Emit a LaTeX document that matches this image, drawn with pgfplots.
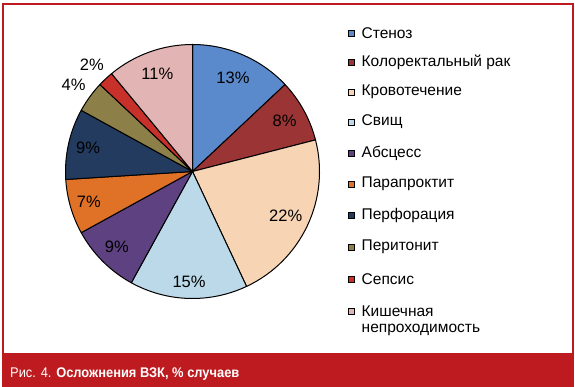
\documentclass[border=0pt]{standalone}
\usepackage{pgfplots}
\pgfplotsset{compat=1.18}
\usepackage{pgfplotstable}
\usepackage{fontspec}
\setmainfont{Liberation Sans}
\newfontfamily\capfont[FakeStretch=0.92]{Liberation Sans}

\definecolor{c0}{HTML}{5A8ACB}
\definecolor{c1}{HTML}{9B3434}
\definecolor{c2}{HTML}{F6D4B4}
\definecolor{c3}{HTML}{BBD9E8}
\definecolor{c4}{HTML}{5E4180}
\definecolor{c5}{HTML}{E07228}
\definecolor{c6}{HTML}{233B5E}
\definecolor{c7}{HTML}{8C8048}
\definecolor{c8}{HTML}{C8302A}
\definecolor{c9}{HTML}{E3B4B4}
\definecolor{bandred}{HTML}{BE1B20}

\pgfplotstableread{
idx val lr ly name
0 13 102 33 Стеноз
1 8 105 62 {Колоректальный рак}
2 22 103 92 Кровотечение
3 15 110 122 Свищ
4 9 107 153 Абсцесс
5 7 108 184 Парапроктит
6 9 107 215 Перфорация
7 4 147 247 Перитонит
8 2 147 279 Сепсис
9 11 104 311 Кишечная
}\piedata

\begin{document}
\begin{tikzpicture}
\def\cum{0}
\foreach \i in {0,...,9}{%
  \pgfplotstablegetelem{\i}{val}\of\piedata
  \let\v\pgfplotsretval
  \pgfplotstablegetelem{\i}{lr}\of\piedata
  \let\r\pgfplotsretval
  \pgfplotstablegetelem{\i}{ly}\of\piedata
  \let\yy\pgfplotsretval
  \pgfplotstablegetelem{\i}{name}\of\piedata
  \let\nm\pgfplotsretval
  \pgfmathsetmacro\s{90-3.6*\cum}
  \pgfmathsetmacro\e{90-3.6*(\cum+\v)}
  \pgfmathsetmacro\m{(\s+\e)/2}
  \pgfmathsetmacro\ly{387-\yy}
  \expandafter\xdef\csname ps\i\endcsname{\s}
  \expandafter\xdef\csname pe\i\endcsname{\e}
  \expandafter\xdef\csname pm\i\endcsname{\m}
  \expandafter\xdef\csname pv\i\endcsname{\v}
  \expandafter\xdef\csname pr\i\endcsname{\r}
  \expandafter\xdef\csname py\i\endcsname{\ly}
  \expandafter\global\expandafter\let\csname pn\i\endcsname\nm
  \pgfmathsetmacro\nc{\cum+\v}
  \xdef\cum{\nc}
}
\begin{axis}[
  width=575pt, height=387pt, scale only axis,
  xmin=0, xmax=575, ymin=0, ymax=387,
  hide axis, clip=false,
]
% frame and caption band
\fill[white] (axis cs:0,0) rectangle (axis cs:575,387);
\draw[bandred, line width=2pt] (axis cs:2.5,382.5) rectangle (axis cs:572.5,33);
\fill[bandred] (axis cs:1.5,0) rectangle (axis cs:573.5,33.5);
\node[anchor=base west, text=white, inner sep=0pt] at (axis cs:10,9)
  {\capfont\fontsize{14}{16}\selectfont Рис. 4. \textbf{Осложнения ВЗК, \% случаев}};
% pie slices
\pgfplotsinvokeforeach{0,...,9}{%
  \edef\temp{\noexpand\draw[fill=c#1, draw=black, line width=1pt, line join=round]
    (axis cs:192.5,215.5) -- ++(\csname ps#1\endcsname:127pt)
    arc[start angle=\csname ps#1\endcsname, end angle=\csname pe#1\endcsname, radius=127pt] -- cycle;}%
  \temp
}
\pgfplotsinvokeforeach{0,...,9}{%
  \edef\temp{\noexpand\node[font=\noexpand\fontsize{16.5}{18}\noexpand\selectfont, inner sep=0pt]
    at ([shift={(\csname pm#1\endcsname:\csname pr#1\endcsname pt)}]axis cs:192.5,215.5)
    {\csname pv#1\endcsname\noexpand\%};}%
  \temp
}
% legend
\pgfplotsinvokeforeach{0,...,9}{%
  \edef\temp{\noexpand\draw[fill=c#1, draw=black, line width=0.6pt]
    (axis cs:348,\csname py#1\endcsname-3) rectangle ++(6pt,6pt);}%
  \temp
  \edef\temp{\noexpand\node[anchor=west, inner sep=0pt, font=\noexpand\fontsize{15.5}{17}\noexpand\selectfont]
    at (axis cs:361.5,\csname py#1\endcsname) {\expandafter\noexpand\csname pn#1\endcsname};}%
  \temp
}
\node[anchor=west, inner sep=0pt, font=\fontsize{15.5}{17}\selectfont]
  at (axis cs:361.5,57) {непроходимость};
\end{axis}
\end{tikzpicture}
\end{document}
